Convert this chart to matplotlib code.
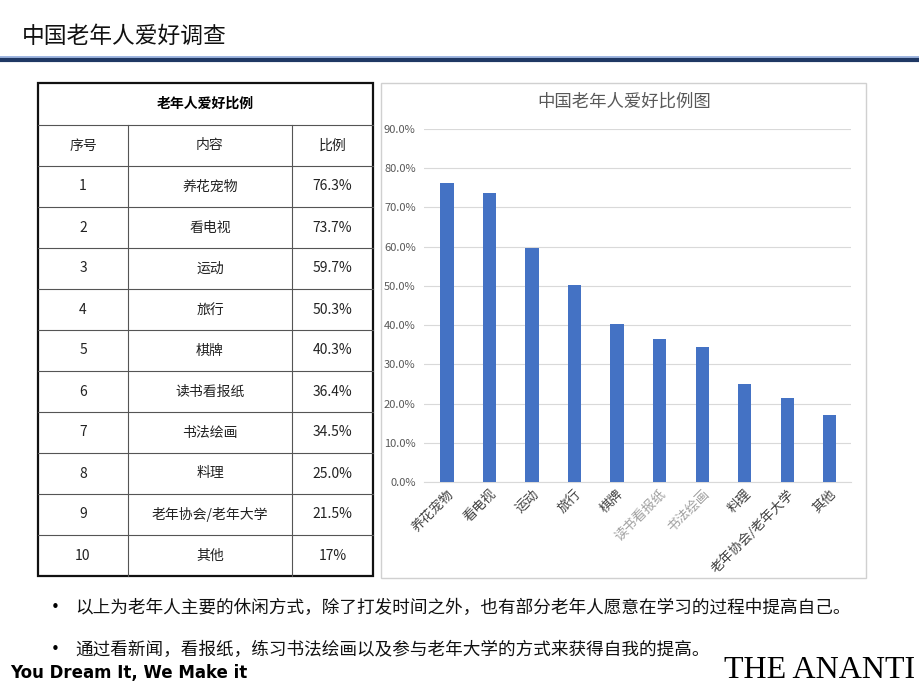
import matplotlib
matplotlib.use("Agg")
import matplotlib.pyplot as plt
from matplotlib.patches import Rectangle

plt.rcParams['font.family'] = ['Noto Sans CJK SC', 'DejaVu Sans']

# data
hobbies = ['养花宠物', '看电视', '运动', '旅行', '棋牌', '读书看报纸',
           '书法绘画', '料理', '老年协会/老年大学', '其他']
ratios = [76.3, 73.7, 59.7, 50.3, 40.3, 36.4, 34.5, 25.0, 21.5, 17.0]
ratio_text = ['76.3%', '73.7%', '59.7%', '50.3%', '40.3%', '36.4%',
              '34.5%', '25.0%', '21.5%', '17%']
yticks = [0, 10, 20, 30, 40, 50, 60, 70, 80, 90]

fig = plt.figure(figsize=(9.2, 6.9), dpi=100)

# pixel-coordinate canvas for slide decorations and the table
bg = fig.add_axes([0, 0, 1, 1])
bg.set_xlim(0, 920)
bg.set_ylim(690, 0)
bg.axis('off')

bg.text(22, 36, '中国老年人爱好调查', fontsize=16.4, va='center', ha='left', color='#111111')
bg.plot([0, 920], [57, 57], color='#8EA9DB', lw=1.2)
bg.plot([0, 920], [59.5, 59.5], color='#1F3864', lw=3)

# table
tx0, tx1 = 38, 373
cols = [38, 128, 292, 373]
top, head_bot = 83, 125
row_h = 41
n_rows = len(hobbies) + 1
bottom = head_bot + n_rows * row_h
for i in range(n_rows):
    y = head_bot + i * row_h
    bg.plot([tx0, tx1], [y, y], color='#555555', lw=0.8)
for x in cols[1:-1]:
    bg.plot([x, x], [head_bot, bottom], color='#555555', lw=0.8)
bg.add_patch(Rectangle((tx0, top), tx1 - tx0, bottom - top, fill=False,
                       edgecolor='#111111', lw=1.6))
bg.text((tx0 + tx1) / 2, (top + head_bot) / 2, '老年人爱好比例', fontsize=10,
        fontweight='bold', ha='center', va='center')
header = ['序号', '内容', '比例']
for j, h in enumerate(header):
    bg.text((cols[j] + cols[j + 1]) / 2, head_bot + row_h / 2, h, fontsize=10,
            ha='center', va='center', color='#222222')
for i, (name, r) in enumerate(zip(hobbies, ratio_text)):
    yc = head_bot + (i + 1) * row_h + row_h / 2
    vals = [str(i + 1), name, r]
    for j, v in enumerate(vals):
        bg.text((cols[j] + cols[j + 1]) / 2, yc, v, fontsize=10,
                ha='center', va='center', color='#222222')

# chart frame
bg.add_patch(Rectangle((381, 83), 866 - 381, 578 - 83, fill=False,
                       edgecolor='#D0D0D0', lw=1))
bg.text(624, 102, '中国老年人爱好比例图', fontsize=12.5, ha='center', va='center',
        color='#595959')

# bullets
bg.text(45, 608, '•', fontsize=15, ha='left', va='center')
bg.text(75, 608, '以上为老年人主要的休闲方式，除了打发时间之外，也有部分老年人愿意在学习的过程中提高自己。',
        fontsize=12.7, ha='left', va='center', color='#111111')
bg.text(45, 650, '•', fontsize=15, ha='left', va='center')
bg.text(75, 650, '通过看新闻，看报纸，练习书法绘画以及参与老年大学的方式来获得自我的提高。',
        fontsize=12.7, ha='left', va='center', color='#111111')
bg.text(10, 673, 'You Dream It, We Make it', fontsize=12, fontweight='bold',
        ha='left', va='center', family=['DejaVu Sans'])
bg.text(915, 671, 'THE ANANTI', fontsize=23, ha='right', va='center',
        family=['Liberation Serif', 'DejaVu Serif'])

# bar chart
ax = fig.add_axes([424 / 920, 1 - 482 / 690, (851 - 424) / 920, (482 - 129) / 690])
ax.patch.set_alpha(0)
ax.bar(range(len(hobbies)), ratios, width=0.31, color='#4472C4', zorder=3)
ax.set_xlim(-0.54, 9.5)
ax.set_ylim(0, 90)
ax.set_yticks(yticks)
ax.set_yticklabels([f'{v:.1f}%' for v in yticks])
ax.grid(axis='y', color='#D9D9D9', lw=0.8, zorder=0)
for s in ['top', 'right', 'left']:
    ax.spines[s].set_visible(False)
ax.spines['bottom'].set_color('#D9D9D9')
ax.tick_params(axis='y', length=0, labelsize=8, labelcolor='#595959', pad=6)
ax.tick_params(axis='x', length=0, labelsize=9.5, pad=4)
ax.set_xticks(range(len(hobbies)))
ax.set_xticklabels(hobbies, rotation=45, ha='right', rotation_mode='anchor')
for lab in ax.get_xticklabels():
    lab.set_color('#404040')
for k in (5, 6):
    ax.get_xticklabels()[k].set_color('#A0A0A0')

fig.savefig('out.png', dpi=100)
